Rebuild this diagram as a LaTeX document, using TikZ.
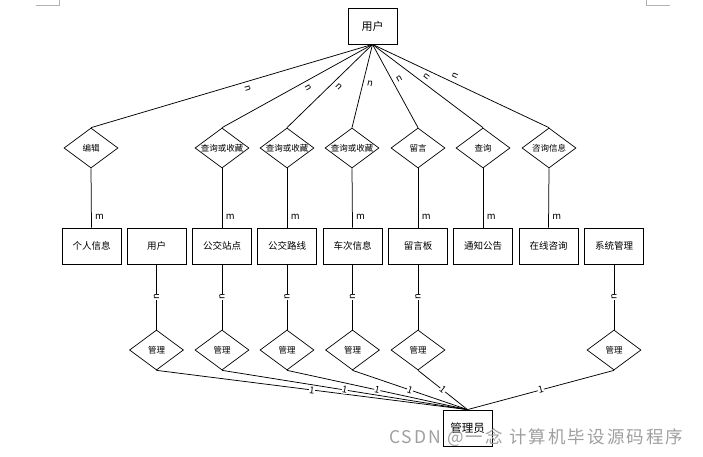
\documentclass[tikz,border=0pt]{standalone}
\usepackage{fontspec}
\setmainfont{Noto Sans CJK SC}
\usetikzlibrary{shapes.geometric,calc}
\newcommand\rtxt[1]{\makebox[0pt]{#1}}
\begin{document}
\begin{tikzpicture}[x=1pt,y=-1pt,
  ent/.style={draw, line width=0.8pt, rectangle, minimum width=59pt, minimum height=36pt, inner sep=0pt, font=\fontsize{9.5}{10}\selectfont},
  top/.style={draw, line width=0.8pt, rectangle, minimum width=49pt, minimum height=36pt, inner sep=0pt, font=\fontsize{11}{12}\selectfont},
  rel/.style={draw, line width=0.7pt, diamond, minimum width=54pt, minimum height=40pt, inner sep=0pt, font=\fontsize{8.5}{10}\selectfont},
  conn/.style={line width=0.75pt},
  lbl/.style={font=\fontsize{9.5}{10}\selectfont, inner sep=0.4pt},
  corner/.style={draw=gray!60, line width=0.8pt}
]
\useasboundingbox (0,0) rectangle (703,457);
\draw[corner] (36,5) -- (59,5) -- (59,0);
\draw[corner] (646,0) -- (646,5) -- (670,5);

% top entity
\node[top] (u) at (372.5,26) {用户};

% first row of relations
\node[rel] (e1) at (91,148) {\rtxt{编辑}};
\node[rel] (q1) at (222,148) {\rtxt{查询或收藏}};
\node[rel] (q2) at (287,148) {\rtxt{查询或收藏}};
\node[rel] (q3) at (352,148) {\rtxt{查询或收藏}};
\node[rel] (ly) at (418,148) {\rtxt{留言}};
\node[rel] (cx) at (483,148) {\rtxt{查询}};
\node[rel] (zx) at (549,148) {\rtxt{咨询信息}};

% entities row
\node[ent] (b1) at (91.5,246) {个人信息};
\node[ent] (b2) at (156.5,246) {用户};
\node[ent] (b3) at (222,246) {公交站点};
\node[ent] (b4) at (287,246) {公交路线};
\node[ent] (b5) at (352.5,246) {车次信息};
\node[ent] (b6) at (418,246) {留言板};
\node[ent] (b7) at (483,246) {通知公告};
\node[ent] (b8) at (548.5,246) {在线咨询};
\node[ent] (b9) at (614,246) {系统管理};

% second row of relations
\node[rel] (g2) at (156.5,350) {\rtxt{管理}};
\node[rel] (g3) at (222,350) {\rtxt{管理}};
\node[rel] (g4) at (287,350) {\rtxt{管理}};
\node[rel] (g5) at (352.5,350) {\rtxt{管理}};
\node[rel] (g6) at (418,350) {\rtxt{管理}};
\node[rel] (g9) at (614,350) {\rtxt{管理}};

% admin
\node[top, font=\fontsize{11.5}{12}\selectfont] (gly) at (467.5,428) {管理员};

% user -> first relations
\foreach \d/\r in {e1/-73.4,q1/-60.8,q2/-45.3,q3/-13.4,ly/28.7,cx/52.9,zx/64.6}{
  \draw[conn] (u.south) -- (\d.north);
  \node[lbl, rotate=\r] (n-\d) at ($(u.south)!0.45!(\d.north)!7pt!90:(\d.north)$) {n};
}

% first relations -> entities
\foreach \d/\b in {e1/b1,q1/b3,q2/b4,q3/b5,ly/b6,cx/b7,zx/b8}{
  \draw[conn] (\d.south) -- (\b.north) node[lbl, pos=.82, right=3pt] {m};
}

% entities -> manage relations
\foreach \b/\g in {b2/g2,b3/g3,b4/g4,b5/g5,b6/g6,b9/g9}{
  \draw[conn] (\b.south) -- (\g.north) node[lbl, pos=.5, rotate=90, fill=white] {n};
}

% manage relations -> admin
\foreach \g in {g2,g3,g4,g5,g6,g9}{
  \draw[conn] (\g.south) -- (gly.north) node[lbl, midway, sloped, fill=white] {1};
}

% watermark
\node[anchor=west, text=gray!75, inner sep=0pt, font=\fontsize{17.5}{18}\selectfont\addfontfeatures{LetterSpace=12}] (wm) at (389,438) {CSDN @一念 计算机毕设源码程序};
\end{tikzpicture}
\end{document}
